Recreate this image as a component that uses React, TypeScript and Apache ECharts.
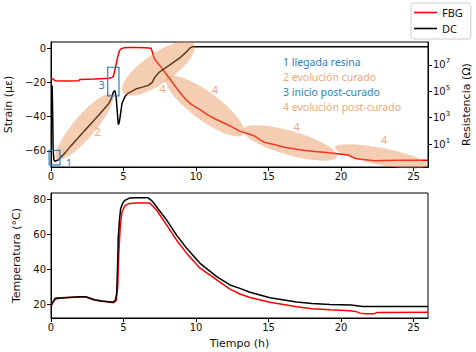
import React, { useEffect, useRef } from 'react';
import * as echarts from 'echarts';

// ---- data ----
const fbgTime = [0, 0.1, 0.3, 1.0, 1.9, 2.0, 3.0, 4.0, 4.2, 4.3, 4.4, 4.5, 4.6, 4.7, 4.8, 5.0, 5.5, 6.0, 6.5, 6.9, 7.0, 7.1, 7.2, 7.5, 8.07, 8.5, 9.0, 9.36, 9.7, 10.3, 10.8, 11.4, 12.0, 12.57, 13.0, 13.7, 14.07, 14.4, 14.76, 15.45, 16.1, 16.83, 17.5, 18.2, 19.0, 19.6, 20.3, 20.5, 20.74, 21.0, 21.4, 22.3, 23, 24, 25, 26];
const fbgStrain = [-17.5, -17.8, -19, -19.2, -19, -18.2, -18, -17.5, -17, -16.5, -13, -9, -5, -2, -0.5, 0.3, 0.5, 0.5, 0.3, 0, -2.5, -5.5, -7, -10, -16.5, -21.5, -27, -30.5, -33, -36, -39, -41.7, -44, -46.4, -48.5, -50.3, -51.5, -53.5, -55.2, -56.5, -58, -59, -59.8, -60.4, -61, -61.6, -62.3, -62.5, -63.5, -64.5, -65, -65.8, -65.7, -65.6, -65.5, -65.5];

const dcTime = [0, 0.08, 0.12, 0.15, 0.2, 0.28, 0.5, 0.97, 1.4, 1.88, 2.3, 2.8, 3.3, 3.72, 4.0, 4.18, 4.3, 4.41, 4.5, 4.56, 4.64, 4.7, 4.76, 4.9, 5.1, 5.3, 5.56, 5.9, 6.25, 6.71, 7.0, 7.1, 7.3, 7.52, 8.2, 8.9, 9.3, 9.6, 9.75, 10, 20.7, 26];
const dcLogResistance = [5.4, 5.4, 3.0, 0.5, -0.2, -0.3, -0.2, 0.33, 0.9, 1.47, 2.0, 2.6, 3.2, 3.74, 4.1, 4.5, 4.95, 5.05, 4.5, 3.6, 2.48, 2.6, 3.0, 4.1, 4.6, 4.85, 5.0, 5.2, 5.3, 5.45, 5.7, 5.95, 6.25, 6.5, 7.0, 7.55, 7.95, 8.3, 8.38, 8.38, 8.38, 8.38];

const tempDcTime = [0, 0.1, 0.3, 0.6, 1, 2, 2.4, 3, 3.5, 4, 4.3, 4.45, 4.53, 4.6, 4.64, 4.72, 4.8, 4.95, 5.1, 5.4, 6, 6.7, 7.0, 7.29, 7.98, 8.66, 9.36, 10.28, 11.43, 12.34, 13.03, 13.72, 15.1, 16.94, 18, 19.24, 20.7, 21.5, 26];
const tempDc = [19, 20.5, 23, 23.3, 23.6, 24.2, 24.2, 22.5, 21.8, 21.3, 21, 22.5, 26, 45, 58.6, 68, 74.8, 78, 79.6, 80.9, 81, 81, 79, 75.8, 68.2, 59.6, 52, 43.4, 35.8, 31, 29, 26.8, 23.6, 21.2, 20.3, 19.8, 19.5, 18.6, 18.6];

const tempFbgTime = [0, 0.1, 0.3, 1, 2, 2.4, 3, 3.5, 4, 4.3, 4.5, 4.6, 4.68, 4.78, 4.9, 5.1, 5.4, 6, 6.8, 7.0, 7.29, 7.98, 8.66, 9.36, 10.28, 11.43, 12.34, 13.03, 13.72, 15.1, 16.94, 18, 19.24, 20.6, 21, 21.3, 21.7, 22.3, 22.5, 26];
const tempFbg = [18.5, 21, 23.5, 23.8, 24, 24, 22.3, 21.6, 21.2, 20.8, 22, 30, 50, 65, 73, 76.5, 77.8, 78, 78, 76.5, 73.9, 65.3, 56.7, 49.1, 40.6, 33.9, 28.6, 25.8, 23.8, 21.0, 18.4, 17.3, 16.7, 16.2, 15.8, 14.8, 14.5, 14.5, 15.2, 15.3];

const timeTicks = [0, 5, 10, 15, 20, 25];
const strainTicks = [-60, -40, -20, 0];
const resistanceExpTicks = [1, 3, 5, 7];
const tempTicks = [20, 40, 60, 80];

const noteLines = ['1 llegada resina', '2 evolución curado', '3 inicio post-curado', '4 evolución post-curado'];

// annotation ellipses: endpoints in (time, strain) and thickness (px)
const ellipseStart = [[0.39, -64.9], [4.97, -26], [7.98, -17.3], [13.24, -47.6], [19.59, -58.1]];
const ellipseEnd = [[4.19, -27.1], [9.85, 2.5], [13.26, -50.3], [19.72, -63.3], [25.93, -68.5]];
const ellipseThick = [22, 30, 28, 24, 17];
// numbered labels in (time, strain)
const labelText = ['1', '2', '3', '4', '4', '4', '4'];
const labelPos = [[1.24, -66.8], [3.22, -48.9], [3.5, -21.4], [7.68, -23.3], [11.31, -24.3], [16.94, -45.7], [22.97, -53.4]];
// boxes (time0, strain0, time1, strain1)
const boxes = [[-0.13, -59.8, 0.62, -68.3], [3.91, -11.1, 4.69, -27.9]];

const BLUE = '#2a7fc4';
const ORANGE = '#f3a67a';
const FONT = 'DejaVu Sans';

const zip = (a: number[], b: number[]) => a.map((v, i) => [v, b[i]]);
const minus = (v: number) => (v < 0 ? '\u2212' + Math.abs(v) : String(v));

export default function App() {
  const ref = useRef<HTMLDivElement>(null);
  useEffect(() => {
    if (!ref.current) return;
    const chart = echarts.init(ref.current, null, { renderer: 'svg' });
    const axisCommon = {
      axisLine: { show: true, onZero: false, lineStyle: { color: '#000', width: 1 } },
      axisTick: { show: true, length: 4, lineStyle: { color: '#000' } },
      splitLine: { show: false },
    };
    const labelStyle = { color: '#111', fontSize: 10, fontFamily: FONT };
    const gridCommon = { show: true, borderColor: '#000', borderWidth: 1, backgroundColor: 'transparent', containLabel: false, outerBoundsMode: 'none' };
    chart.setOption({
      animation: false,
      backgroundColor: '#fff',
      grid: [
        { left: 51, top: 42, width: 377, height: 125, ...gridCommon },
        { left: 51, top: 193, width: 377, height: 125, ...gridCommon },
      ],
      legend: {
        data: ['FBG', 'DC'],
        orient: 'vertical',
        left: 411,
        top: 3,
        padding: [2, 8, 3, 3],
        icon: 'rect',
        itemWidth: 23,
        itemHeight: 1.6,
        itemGap: 1,
        borderColor: '#ccc',
        borderWidth: 1,
        borderRadius: 3,
        textStyle: { fontSize: 11, color: '#111', fontFamily: 'Noto Sans', lineHeight: 15 },
      },
      xAxis: [
        {
          gridIndex: 0, type: 'value', min: 0, max: 26, ...axisCommon,
          axisTick: { ...axisCommon.axisTick, customValues: timeTicks },
          axisLabel: { ...labelStyle, margin: 4, customValues: timeTicks },
        },
        {
          gridIndex: 1, type: 'value', min: 0, max: 26, ...axisCommon,
          axisTick: { ...axisCommon.axisTick, customValues: timeTicks },
          axisLabel: { ...labelStyle, margin: 4, customValues: timeTicks },
          name: 'Tiempo (h)', nameLocation: 'middle', nameGap: 20,
          nameTextStyle: { fontSize: 11, color: '#111', fontFamily: FONT },
        },
      ],
      yAxis: [
        {
          gridIndex: 0, type: 'value', min: -69.5, max: 3.7, ...axisCommon,
          axisTick: { ...axisCommon.axisTick, customValues: strainTicks },
          axisLabel: { ...labelStyle, margin: 5, customValues: strainTicks, formatter: (v: number) => minus(v) },
          name: 'Strain (µε)', nameLocation: 'middle', nameGap: 34, nameRotate: 90,
          nameTextStyle: { fontSize: 11, color: '#111', fontFamily: FONT },
        },
        {
          gridIndex: 0, type: 'value', position: 'right', min: -0.74, max: 8.74, ...axisCommon,
          axisTick: { ...axisCommon.axisTick, customValues: resistanceExpTicks },
          axisLabel: {
            ...labelStyle, margin: 5, customValues: resistanceExpTicks,
            formatter: (v: number) => '10{sup|' + v + '}',
            rich: { sup: { fontSize: 7, color: '#111', fontFamily: FONT, padding: [0, 0, 7, 0] } },
          },
          name: 'Resistencia (Ω)', nameLocation: 'middle', nameGap: 29, nameRotate: 90,
          nameTextStyle: { fontSize: 11, color: '#111', fontFamily: FONT },
        },
        {
          gridIndex: 1, type: 'value', min: 12, max: 83.8, ...axisCommon,
          axisTick: { ...axisCommon.axisTick, customValues: tempTicks },
          axisLabel: { ...labelStyle, margin: 5, customValues: tempTicks },
          name: 'Temperatura (°C)', nameLocation: 'middle', nameGap: 16, nameRotate: 90,
          nameTextStyle: { fontSize: 11, color: '#111', fontFamily: FONT },
        },
      ],
      series: [
        { name: 'FBG', type: 'line', xAxisIndex: 0, yAxisIndex: 0, data: zip(fbgTime, fbgStrain), symbol: 'none', color: '#ff0000', lineStyle: { width: 1.5, color: '#ff0000' } },
        { name: 'DC', type: 'line', xAxisIndex: 0, yAxisIndex: 1, data: zip(dcTime, dcLogResistance), symbol: 'none', color: '#000', lineStyle: { width: 1.5, color: '#000' } },
        { name: 'FBG', type: 'line', xAxisIndex: 1, yAxisIndex: 2, data: zip(tempFbgTime, tempFbg), symbol: 'none', color: '#ff0000', lineStyle: { width: 1.5, color: '#ff0000' } },
        { name: 'DC', type: 'line', xAxisIndex: 1, yAxisIndex: 2, data: zip(tempDcTime, tempDc), symbol: 'none', color: '#000', lineStyle: { width: 1.5, color: '#000' } },
      ],
    });

    const px = (p: number[]) => chart.convertToPixel({ xAxisIndex: 0, yAxisIndex: 0 }, p) as number[];
    const graphics: any[] = [];
    ellipseStart.forEach((s, i) => {
      const a = px(s);
      const b = px(ellipseEnd[i]);
      const cx = (a[0] + b[0]) / 2;
      const cy = (a[1] + b[1]) / 2;
      const len = Math.hypot(b[0] - a[0], b[1] - a[1]);
      const ang = Math.atan2(a[1] - b[1], b[0] - a[0]);
      graphics.push({
        type: 'ellipse', x: cx, y: cy, rotation: ang, z: 10,
        shape: { cx: 0, cy: 0, rx: len / 2, ry: ellipseThick[i] / 2 },
        style: { fill: 'rgba(232,135,75,0.42)' },
      });
    });
    boxes.forEach((bx) => {
      const a = px([bx[0], bx[1]]);
      const b = px([bx[2], bx[3]]);
      graphics.push({
        type: 'rect', z: 11,
        shape: { x: Math.min(a[0], b[0]), y: Math.min(a[1], b[1]), width: Math.abs(b[0] - a[0]), height: Math.abs(b[1] - a[1]) },
        style: { fill: 'none', stroke: BLUE, lineWidth: 1.2 },
      });
    });
    labelText.forEach((t, i) => {
      const p = px(labelPos[i]);
      graphics.push({
        type: 'text', x: p[0], y: p[1], z: 12,
        style: { text: t, fill: t === '1' || t === '3' ? BLUE : ORANGE, fontSize: 11, fontFamily: 'Noto Sans', align: 'center', verticalAlign: 'middle' },
      });
    });
    const np = px([16.0, -7.8]);
    noteLines.forEach((t, i) => {
      graphics.push({
        type: 'text', x: np[0], y: np[1] + i * 15.1, z: 12,
        style: { text: t, fill: i % 2 === 0 ? BLUE : ORANGE, fontSize: 10.5, fontFamily: 'Noto Sans', align: 'left', verticalAlign: 'middle' },
      });
    });
    chart.setOption({ graphic: graphics });

    return () => chart.dispose();
  }, []);
  return <div ref={ref} style={{ position: 'fixed', left: 0, top: 0, width: 476, height: 352, background: '#fff' }} />;
}
